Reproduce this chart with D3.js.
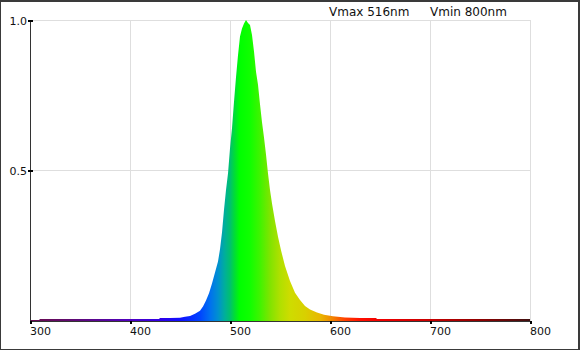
<!DOCTYPE html>
<html>
<head>
<meta charset="utf-8">
<script src="https://cdn.jsdelivr.net/npm/d3@7"></script>
<style>
body { margin: 0; background: #fff; }
text { font-family: "DejaVu Sans", sans-serif; fill: #111; }
</style>
</head>
<body>
<div id="chart"></div>
<script>
var width = 580,
    height = 350;

// spectrum (nm, relative intensity)
var wavelengths = [300, 309, 310, 330, 360, 400, 425, 429, 430, 440, 450, 455, 460, 465, 470, 473, 476,
    479, 482, 485, 488, 490, 492, 494, 496, 498, 500, 502, 504, 506, 508, 510, 512, 514, 516,
    518, 520, 522, 524, 526, 528, 530, 532, 534, 536, 538, 540, 542, 545, 548, 551, 555, 560,
    565, 570, 575, 580, 587, 594, 603, 615, 630, 646, 647, 700, 750, 800];
var intensity = [0.003, 0.003, 0.0066, 0.0066, 0.0066, 0.0066, 0.0066, 0.0066, 0.01, 0.01, 0.011, 0.014, 0.017,
    0.024, 0.034, 0.048, 0.068, 0.092, 0.125, 0.161, 0.198, 0.238, 0.294, 0.37, 0.435, 0.49,
    0.573, 0.64, 0.728, 0.81, 0.883, 0.945, 0.972, 0.988, 1.0, 0.99, 0.983, 0.95, 0.895, 0.828,
    0.785, 0.72, 0.66, 0.61, 0.553, 0.49, 0.435, 0.39, 0.332, 0.28, 0.235, 0.183, 0.133, 0.094,
    0.07, 0.05, 0.038, 0.028, 0.021, 0.016, 0.012, 0.01, 0.01, 0.0066, 0.0066, 0.0066, 0.0066];

var xTicks = [300, 400, 500, 600, 700, 800];
var yTicks = [0.5, 1.0];
var vmax = 516, vmin = 800;

// colour of each wavelength, used for the fill gradient
var colourStops = [
    [300, '#6a0a4c'], [340, '#600a70'], [400, '#5000c0'], [430, '#3000e8'], [450, '#1010ff'],
    [470, '#0044ff'], [480, '#0070f0'], [488, '#0090d0'], [495, '#00b098'], [500, '#00c070'],
    [505, '#00e030'], [510, '#00ff00'], [520, '#10ff00'], [530, '#40f400'], [540, '#80e400'],
    [550, '#b0e000'], [560, '#cedc00'], [575, '#d8d000'], [590, '#e8b800'], [600, '#f09000'],
    [615, '#ff4000'], [630, '#ff1000'], [650, '#f00000'], [700, '#c80000'], [750, '#900000'],
    [800, '#401010']];

var data = wavelengths.map(function(w, i) { return {w: w, v: intensity[i]}; });

var svg = d3.select('#chart').append('svg')
    .attr('width', width)
    .attr('height', height);

var x = d3.scaleLinear().domain([300, 800]).range([30, 530]);
var y = d3.scaleLinear().domain([0, 1]).range([321, 20]);

// frame
svg.append('rect')
    .attr('x', 0.5).attr('y', 0.5)
    .attr('width', width - 1).attr('height', height - 1)
    .attr('fill', '#fff').attr('stroke', '#3a3a3a');
svg.append('line').attr('x1', 0).attr('x2', width).attr('y1', 1.5).attr('y2', 1.5)
    .attr('stroke', '#3a3a3a');
svg.append('line').attr('x1', width - 1.5).attr('x2', width - 1.5).attr('y1', 0).attr('y2', height)
    .attr('stroke', '#3a3a3a');

// grid
svg.selectAll('line.vgrid').data(xTicks.slice(1)).enter().append('line')
    .attr('class', 'vgrid')
    .attr('x1', function(d) { return Math.round(x(d)) + 0.5; })
    .attr('x2', function(d) { return Math.round(x(d)) + 0.5; })
    .attr('y1', y(1)).attr('y2', y(0))
    .attr('stroke', '#dedede');
svg.selectAll('line.hgrid').data(yTicks).enter().append('line')
    .attr('class', 'hgrid')
    .attr('x1', x(300)).attr('x2', x(800))
    .attr('y1', function(d) { return Math.floor(y(d)) + 0.5; })
    .attr('y2', function(d) { return Math.floor(y(d)) + 0.5; })
    .attr('stroke', '#dedede');

// spectrum fill
var grad = svg.append('defs').append('linearGradient')
    .attr('id', 'spec')
    .attr('gradientUnits', 'userSpaceOnUse')
    .attr('x1', x(300)).attr('x2', x(800))
    .attr('y1', 0).attr('y2', 0);
grad.selectAll('stop').data(colourStops).enter().append('stop')
    .attr('offset', function(d) { return (d[0] - 300) / 500; })
    .attr('stop-color', function(d) { return d[1]; });

var area = d3.area()
    .x(function(d) { return x(d.w); })
    .y0(y(0))
    .y1(function(d) { return y(d.v); });

svg.append('path')
    .datum(data)
    .attr('d', area)
    .attr('fill', 'url(#spec)');

// axes
svg.append('line')
    .attr('x1', x(300) + 0.5).attr('x2', x(300) + 0.5)
    .attr('y1', y(1)).attr('y2', y(0) + 1)
    .attr('stroke', '#333');
svg.append('line')
    .attr('x1', x(300)).attr('x2', x(800) + 1)
    .attr('y1', y(0) + 0.5).attr('y2', y(0) + 0.5)
    .attr('stroke', '#333');

svg.selectAll('rect.xtick').data(xTicks).enter().append('rect')
    .attr('class', 'xtick')
    .attr('x', function(d) { return x(d); })
    .attr('y', y(0))
    .attr('width', 2).attr('height', 3)
    .attr('fill', '#000');
svg.selectAll('text.xlab').data(xTicks).enter().append('text')
    .attr('class', 'xlab')
    .attr('x', function(d) { return x(d); })
    .attr('y', 335)
    .attr('font-size', 11)
    .text(function(d) { return d; });

svg.selectAll('rect.ytick').data(yTicks).enter().append('rect')
    .attr('class', 'ytick')
    .attr('x', 28)
    .attr('y', function(d) { return Math.floor(y(d)); })
    .attr('width', 5).attr('height', 2)
    .attr('fill', '#000');
svg.selectAll('text.ylab').data(yTicks).enter().append('text')
    .attr('class', 'ylab')
    .attr('x', 27)
    .attr('y', function(d) { return Math.floor(y(d)) + 5; })
    .attr('text-anchor', 'end')
    .attr('font-size', 11)
    .text(function(d) { return d.toFixed(1); });

// header
svg.append('text').attr('x', 329).attr('y', 16).attr('font-size', 12)
    .text('Vmax ' + vmax + 'nm');
svg.append('text').attr('x', 430).attr('y', 16).attr('font-size', 12)
    .text('Vmin ' + vmin + 'nm');
</script>
</body>
</html>
